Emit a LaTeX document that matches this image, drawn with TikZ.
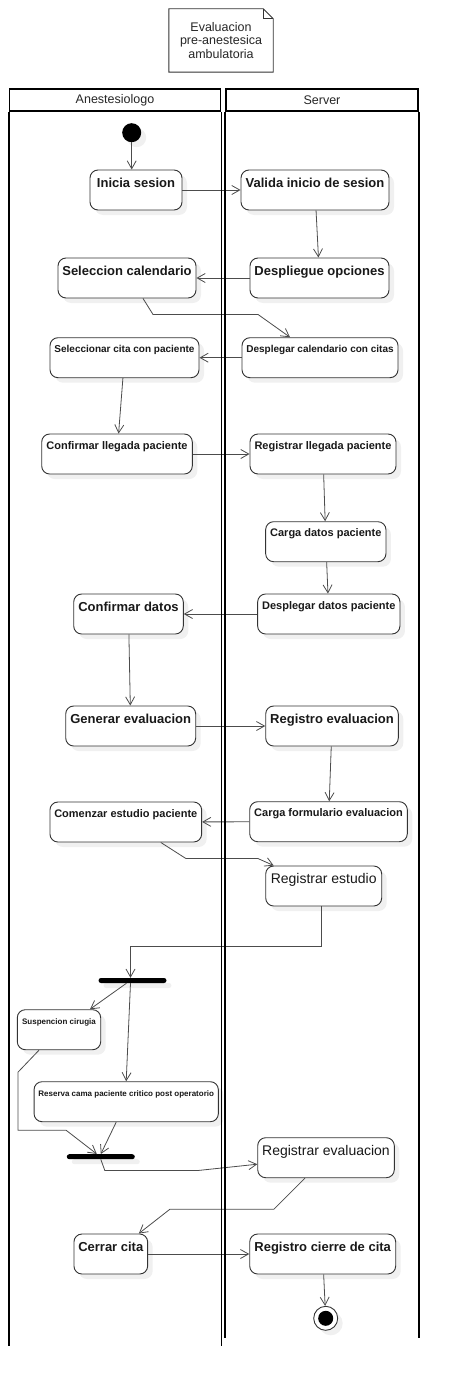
\documentclass[tikz,border=0pt]{standalone}
\usepackage{fontspec}
\setmainfont{Liberation Sans}
\usetikzlibrary{arrows.meta, shadows}

\begin{document}
\begin{tikzpicture}[
    x=1pt, y=-1pt,
    shade/.style={drop shadow={shadow xshift=5pt, shadow yshift=-5pt, fill=black!6, opacity=1}},
    activity/.style={rectangle, draw=black!80, line width=0.9pt, rounded corners=8pt, fill=white, text=black!90, align=center, inner xsep=2pt, inner ysep=0pt, minimum height=40pt, shade},
    actbig/.style={activity, font=\fontsize{13}{15}\selectfont\bfseries, text height=17.5pt, text depth=22.5pt},
    actmid/.style={activity, font=\fontsize{11}{13}\selectfont\bfseries, text height=15pt, text depth=25pt},
    actsmall/.style={activity, font=\fontsize{10}{12}\selectfont\bfseries, text height=14.6pt, text depth=25.4pt},
    acttiny/.style={activity, font=\fontsize{8}{10}\selectfont\bfseries, text height=14.5pt, text depth=25.5pt},
    actplain/.style={activity, font=\fontsize{14}{16}\selectfont, text height=17.7pt, text depth=22.3pt},
    startnode/.style={circle, fill=black, minimum size=19pt, inner sep=0pt, shade},
    endnode/.style={circle, draw=black!80, line width=0.9pt, fill=white, minimum size=24pt, inner sep=0pt, shade, path picture={\fill[black] (path picture bounding box.center) circle (7.5pt);}},
    forkbar/.style={rectangle, fill=black, rounded corners=2.5pt, minimum width=68pt, minimum height=5pt, inner sep=0pt, shade},
    lanehead/.style={rectangle, draw=black, line width=1.8pt, inner sep=0pt, minimum height=22pt, font=\fontsize{12.5}{14}\selectfont, text=black!85},
    laneline/.style={draw=black, line width=1.8pt},
    notetext/.style={align=center, inner sep=0pt, font=\fontsize{12.5}{13.7}\selectfont, text=black!85},
    notebox/.style={draw=black!80, line width=0.9pt},
    arrow/.style={-{Straight Barb[length=8pt, width=9pt]}, draw=black!70, line width=0.8pt}
    ]
\useasboundingbox (0,0) rectangle (458,1386);

% Title note
\node[notetext, minimum width=104pt, minimum height=63pt] (title) at (221,40.5) {Evaluacion\\pre-anestesica\\ambulatoria};
\draw[notebox] (title.north west) -- ([xshift=-10pt]title.north east) -- ([yshift=-10pt]title.north east) -- (title.south east) -- (title.south west) -- cycle;
\draw[notebox] ([xshift=-10pt]title.north east) -- ([xshift=-10pt, yshift=-10pt]title.north east) -- ([yshift=-10pt]title.north east);

% Lanes
\node[lanehead, minimum width=211pt] (anest) at (115,100) {Anestesiologo};
\node[lanehead, minimum width=192pt] (server) at (322,100) {Server};

% Nodes
\node[startnode] (start) at (131.7,132.7) {};
\node[actbig, minimum width=92pt] (inicia) at (136,190) {Inicia sesion};
\node[actbig, minimum width=148pt] (valida) at (315,190) {Valida inicio de sesion};
\node[actbig, minimum width=138pt] (selcal) at (127,278) {Seleccion calendario};
\node[actbig, minimum width=139pt] (despop) at (319.5,278) {Despliegue opciones};
\node[actsmall, minimum width=149pt] (selcita) at (124.5,357.7) {Seleccionar cita con paciente};
\node[actsmall, minimum width=156pt] (descal) at (320,357.7) {Desplegar calendario con citas};
\node[actmid, minimum width=150.6pt] (confleg) at (117,454) {Confirmar llegada paciente};
\node[actmid, minimum width=146pt] (regleg) at (323,454) {Registrar llegada paciente};
\node[actmid, minimum width=120.3pt] (cargadat) at (325.8,541.7) {Carga datos paciente};
\node[actmid, minimum width=142.3pt] (despdat) at (328.8,614) {Desplegar datos paciente};
\node[actbig, minimum width=109.6pt] (confdat) at (128.5,614) {Confirmar datos};
\node[actbig, minimum width=130pt] (generar) at (130.7,726) {Generar evaluacion};
\node[actbig, minimum width=132.6pt] (regeval) at (332,726) {Registro evaluacion};
\node[actmid, minimum width=157.6pt] (cargaform) at (328.5,821.7) {Carga formulario evaluacion};
\node[actmid, minimum width=151.7pt] (comenzar) at (125.8,822) {Comenzar estudio paciente};
\node[actplain, minimum width=116pt] (regest) at (323.7,886) {Registrar estudio};
\node[forkbar] (forka) at (132.5,980.5) {};
\node[acttiny, minimum width=83.4pt] (susp) at (59,1029.7) {Suspencion cirugia};
\node[acttiny, minimum width=184.3pt] (reserva) at (126.2,1101.7) {Reserva cama paciente critico post operatorio};
\node[forkbar] (forkb) at (100.8,1156.7) {};
\node[actplain, minimum width=136.6pt] (regevalf) at (326,1157.7) {Registrar evaluacion};
\node[actbig, minimum width=73.7pt] (cerrar) at (110.8,1254) {Cerrar cita};
\node[actbig, minimum width=146pt] (regcierre) at (322.7,1254) {Registro cierre de cita};
\node[endnode] (finish) at (325.7,1318.3) {};

% Arrows
\draw[arrow] (start) -- (start |- inicia.north);
\draw[arrow] (inicia) -- (valida);
\draw[arrow] (valida) -- (despop);
\draw[arrow] (despop) -- (selcal);
\draw[arrow] ([xshift=16pt]selcal.south) -- ++(10,16) -- ++(105,0) -- ([xshift=-30pt]descal.north);
\draw[arrow] (descal) -- (selcita);
\draw[arrow] (selcita) -- (confleg);
\draw[arrow] (confleg) -- (regleg);
\draw[arrow] (regleg) -- (cargadat);
\draw[arrow] (cargadat) -- (despdat);
\draw[arrow] (despdat) -- (confdat);
\draw[arrow] (confdat) -- (generar);
\draw[arrow] (generar) -- (regeval);
\draw[arrow] (regeval) -- (cargaform);
\draw[arrow] (cargaform) -- (comenzar);
\draw[arrow] ([xshift=35pt]comenzar.south) -- ++(25,16) -- ++(72,0) -- ([xshift=-50pt]regest.north);
\draw[arrow] ([xshift=-2pt]regest.south) -- ++(0,40) -| ([xshift=-2pt]forka.north);
\draw[arrow] ([xshift=-6pt]forka.south) -- ([xshift=31pt]susp.north);
\draw[arrow] ([xshift=-2pt]forka.south) -- (reserva.north);
\draw[arrow] ([xshift=-20pt]susp.south) -- ++(-21,22) -- ++(0,58) -- ++(48,0) -- ([xshift=-4pt]forkb.north);
\draw[arrow] ([xshift=-10pt]reserva.south) -- (forkb.north);
\draw[arrow] (forkb.south) -- ++(4,11) -- ++(94,0) -- ([yshift=-6.5pt]regevalf.west);
\draw[arrow] ([xshift=-21pt]regevalf.south) -- ++(-31,31) -- ++(-104,0) -- ([xshift=28pt]cerrar.north);
\draw[arrow] (cerrar) -- (regcierre);
\draw[arrow] (regcierre) -- (finish);

% Lane borders
\draw[laneline] (anest.south west) -- ++(0,1234);
\draw[laneline] (anest.south east) -- ++(0,1234);
\draw[laneline] (server.south west) -- ++(0,1226);
\draw[laneline] (server.south east) -- ++(0,1226);

\end{tikzpicture}
\end{document}
